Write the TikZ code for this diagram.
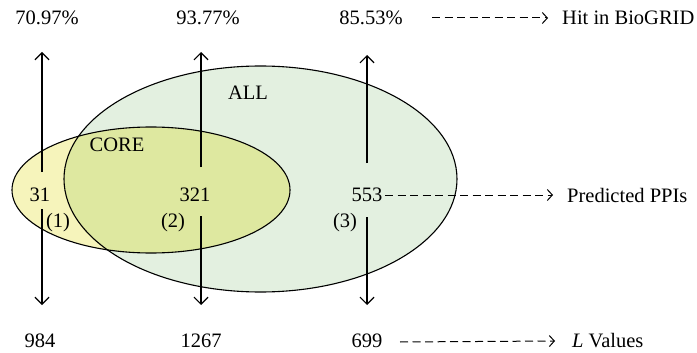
\documentclass[tikz,border=0pt]{standalone}
\usepackage{fontspec}
\setmainfont{Liberation Serif}
\usetikzlibrary{arrows.meta}
\definecolor{coreonly}{HTML}{F6F4BB}
\definecolor{allonly}{HTML}{E3F0E0}
\definecolor{both}{HTML}{DEE8A0}
\begin{document}
\begin{tikzpicture}[x=1pt,y=-1pt,
  lbl/.style={font=\fontsize{20.5}{24}\selectfont, inner sep=0pt, anchor=center},
  solidarrow/.style={line width=1.8pt, -{Straight Barb[length=7pt,width=14pt,line width=1.2pt]}},
  dasharrow/.style={line width=1pt, dash pattern=on 8pt off 4.5pt, -{Straight Barb[length=5pt,width=11pt,line width=1pt]}},
  outline/.style={line width=1.1pt, draw=black}]
\useasboundingbox (0,0) rectangle (697,353);
% fills
\fill[allonly] (260.5,179) ellipse [x radius=196.5, y radius=113];
\fill[coreonly] (151,190) ellipse [x radius=139, y radius=63];
\begin{scope}
  \clip (260.5,179) ellipse [x radius=196.5, y radius=113];
  \fill[both] (151,190) ellipse [x radius=139, y radius=63];
\end{scope}
\draw[outline] (260.5,179) ellipse [x radius=196.5, y radius=113];
\draw[outline] (151,190) ellipse [x radius=139, y radius=63];
% labels
\node[lbl] (all) at (248,93) {ALL};
\node[lbl] (core) at (117,145) {CORE};
\node[lbl] (n31) at (40,195) {31};
\node[lbl] (n321) at (195,195) {321};
\node[lbl] (n553) at (367,195) {553};
\node[lbl] (r1) at (58,223) {(1)};
\node[lbl] (r2) at (173,223) {(2)};
\node[lbl] (r3) at (345,223) {(3)};
\node[lbl] (p1) at (47,18) {70.97\%};
\node[lbl] (p2) at (208,18) {93.77\%};
\node[lbl] (p3) at (371,18) {85.53\%};
\node[lbl] (l1) at (40,341) {984};
\node[lbl] (l2) at (201,341) {1267};
\node[lbl] (l3) at (367,341) {699};
\node[lbl, anchor=west] (hit) at (562,18) {Hit in BioGRID};
\node[lbl, anchor=west] (ppi) at (567,195) {Predicted PPIs};
\node[lbl, anchor=west] (lval) at (572,341) {\textit{L} Values};
% solid arrows
\coordinate (u1s) at (42,172); \coordinate (u1e) at (42,52);
\coordinate (u2s) at (201,167); \coordinate (u2e) at (201,52);
\coordinate (u3s) at (367,163); \coordinate (u3e) at (367,55);
\coordinate (d1s) at (42,209); \coordinate (d1e) at (42,305);
\coordinate (d2s) at (201,216); \coordinate (d2e) at (201,305);
\coordinate (d3s) at (367,217); \coordinate (d3e) at (367,305);
\draw[solidarrow] (u1s) -- (u1e);
\draw[solidarrow] (u2s) -- (u2e);
\draw[solidarrow] (u3s) -- (u3e);
\draw[solidarrow] (d1s) -- (d1e);
\draw[solidarrow] (d2s) -- (d2e);
\draw[solidarrow] (d3s) -- (d3e);
% dashed arrows
\draw[dasharrow] (432,18) -- (hit.west -| 548,0);
\draw[dasharrow] (385,195) -- (ppi.west -| 553,0);
\draw[dasharrow] (400,342) -- (lval.west -| 555,0);
\end{tikzpicture}
\end{document}
